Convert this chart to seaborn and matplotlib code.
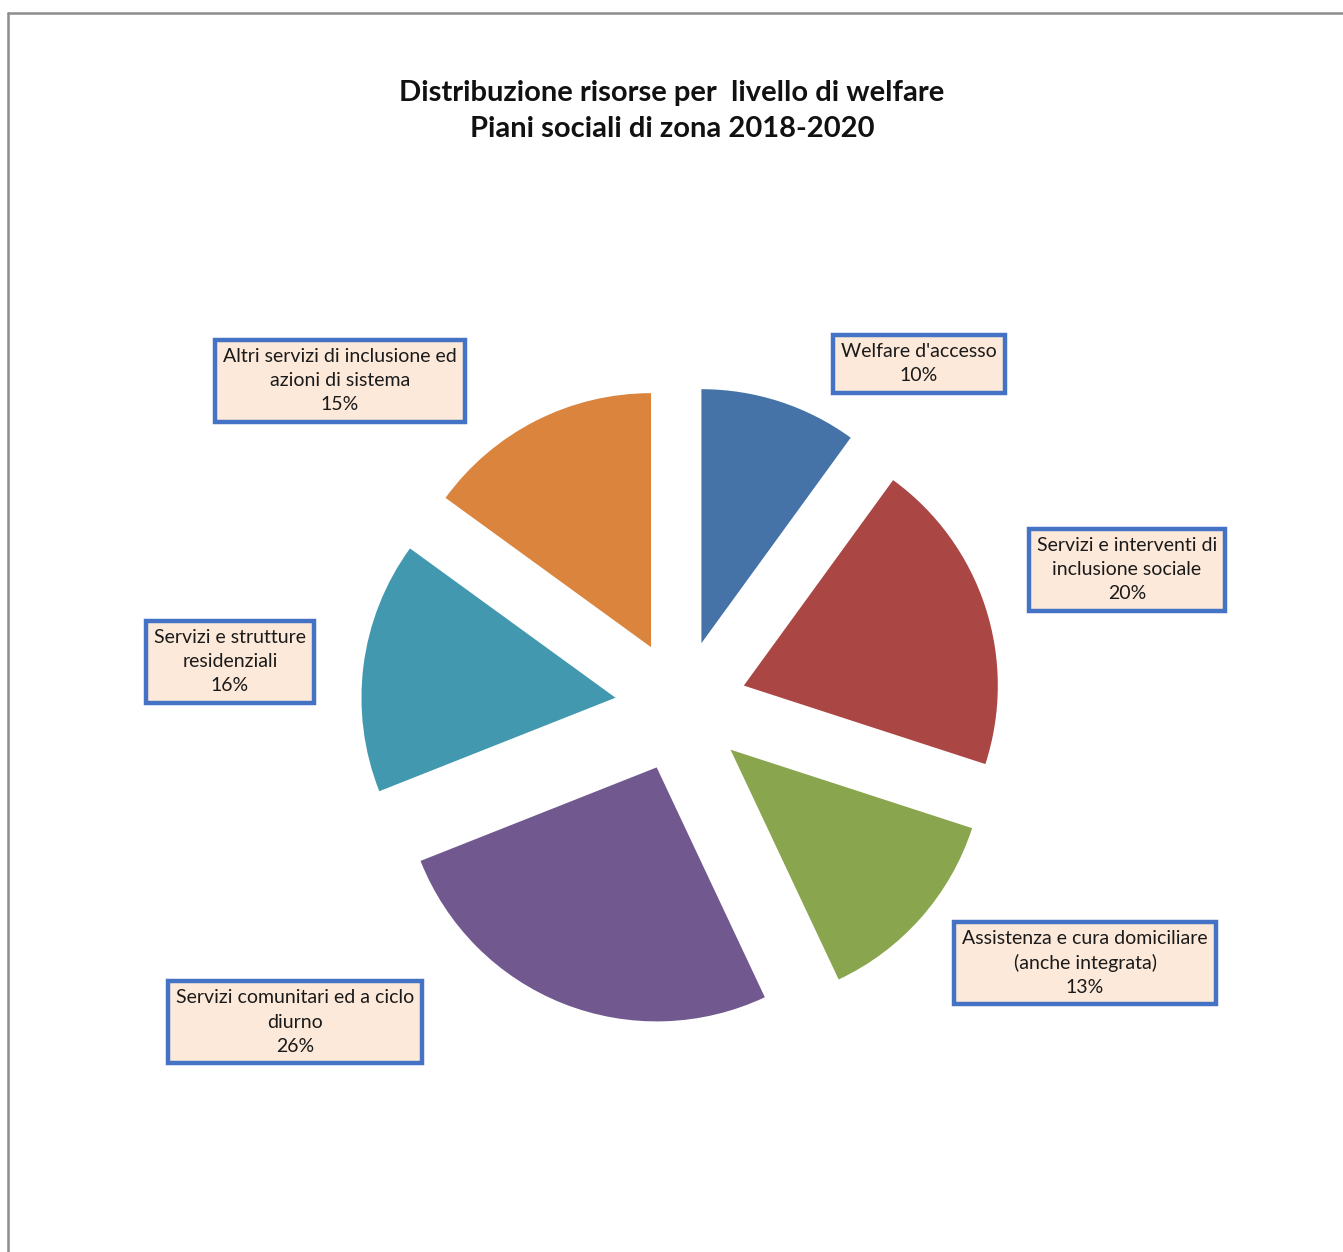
import matplotlib
matplotlib.use("Agg")
import matplotlib.pyplot as plt
import seaborn as sns
from matplotlib.lines import Line2D

# data
categories = [
    "Welfare d'accesso",
    "Servizi e interventi di\ninclusione sociale",
    "Assistenza e cura domiciliare\n(anche integrata)",
    "Servizi comunitari ed a ciclo\ndiurno",
    "Servizi e strutture\nresidenziali",
    "Altri servizi di inclusione ed\nazioni di sistema",
]
shares = [10, 20, 13, 26, 16, 15]
colors = ["#4572A7", "#AA4643", "#89A54E", "#71588F", "#4198AF", "#DB843D"]

# label box centres in pixels (layout only)
label_px = [(919, 364), (1127, 570), (1085, 963), (295, 1022), (230, 662), (340, 381)]

W, H = 1343, 1252
cx, cy, rad = 681, 706, 254  # pie centre and radius in pixels

sns.set_theme(style="white")
plt.rcParams["font.family"] = ["Lato", "DejaVu Sans"]

fig = plt.figure(figsize=(W / 100, H / 100), dpi=100)
fig.patch.set_facecolor("white")
ax = fig.add_axes([0, 0, 1, 1])

ax.pie(shares, colors=colors, startangle=90, counterclock=False,
       explode=[0.26] * len(shares), radius=1.0, center=(0, 0),
       wedgeprops=dict(linewidth=0))

ax.set_aspect("auto")
ax.set_xlim(-cx / rad, (W - cx) / rad)
ax.set_ylim(-(H - cy) / rad, cy / rad)
ax.axis("off")

def to_data(px, py):
    return (px - cx) / rad, (cy - py) / rad

for name, val, (px, py) in zip(categories, shares, label_px):
    x, y = to_data(px, py)
    ax.text(x, y, f"{name}\n{val}%", ha="center", va="center",
            fontsize=14, color="#1a1a1a", linespacing=1.5,
            bbox=dict(boxstyle="square,pad=0.42", facecolor="#FDE9D9",
                      edgecolor="#4472C4", linewidth=3.2))

fig.text(672 / W, 1 - 111 / H,
         "Distribuzione risorse per  livello di welfare\nPiani sociali di zona 2018-2020",
         ha="center", va="center", fontsize=21, fontweight="bold",
         color="#111111", linespacing=1.5)

# outer frame of the chart area
fig.add_artist(Line2D([8 / W, 8 / W], [0, 1 - 13 / H], color="#8c8c8c", lw=1.8,
                      transform=fig.transFigure))
fig.add_artist(Line2D([8 / W, 1], [1 - 13 / H, 1 - 13 / H], color="#8c8c8c", lw=1.8,
                      transform=fig.transFigure))

fig.savefig("out.png", dpi=100)
